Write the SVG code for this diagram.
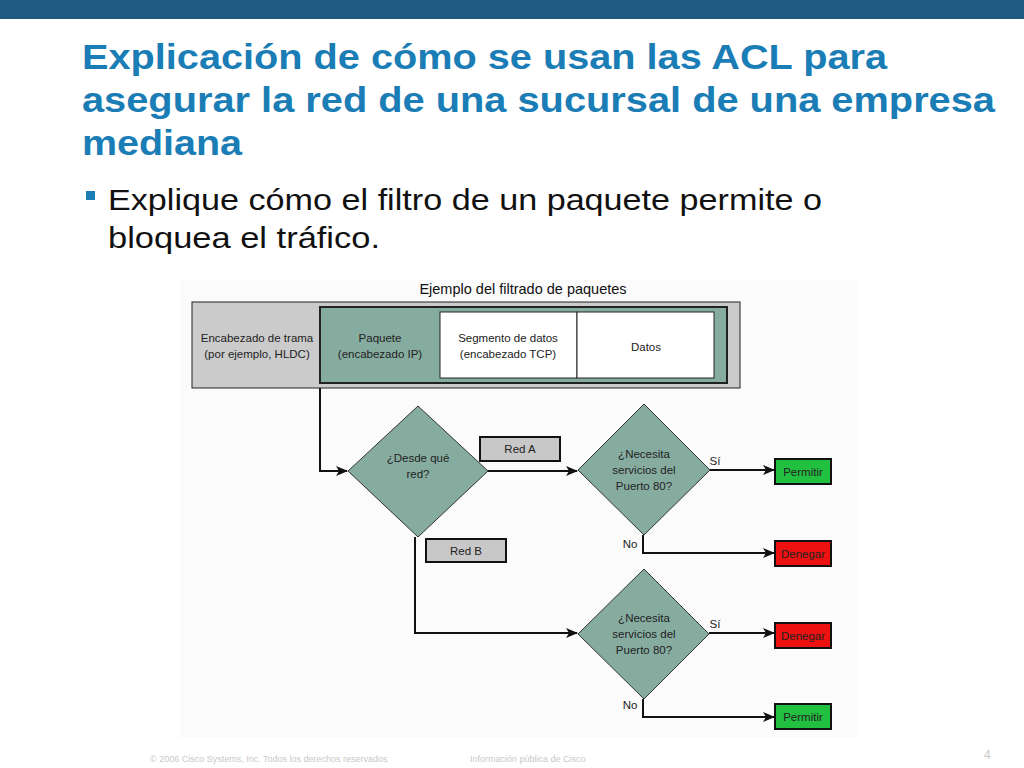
<svg xmlns="http://www.w3.org/2000/svg" width="1024" height="768" viewBox="0 0 1024 768">
<defs>
<marker id="ah" markerWidth="12" markerHeight="10" refX="11" refY="5" orient="auto" markerUnits="userSpaceOnUse"><path d="M0,0 L12,5 L0,10 L3,5 Z" fill="#111"/></marker>
<style>
text{font-family:"Liberation Sans",Arial,sans-serif}
.t{fill:#1b7db5;font-size:35px;font-weight:bold}
.b{fill:#111;font-size:30px}
.s{font-size:11.5px;fill:#222;text-anchor:middle}
.dia{fill:#86aca0;stroke:#333;stroke-width:1}
.c{fill:none;stroke:#111;stroke-width:2}
.lbl{fill:#c8c8c8;stroke:#111;stroke-width:2}
.ok{fill:#22c040;stroke:#111;stroke-width:2}
.no{fill:#ee1111;stroke:#111;stroke-width:2}
.f{fill:#c8c8c8;font-size:9px}
</style>
</defs>
<rect width="1024" height="768" fill="#fff"/>
<rect width="1024" height="19" fill="#1d5c80"/>
<text class="t" x="82" y="69" textLength="805" lengthAdjust="spacingAndGlyphs">Explicación de cómo se usan las ACL para</text>
<text class="t" x="82" y="112" textLength="913" lengthAdjust="spacingAndGlyphs">asegurar la red de una sucursal de una empresa</text>
<text class="t" x="82" y="155" textLength="160" lengthAdjust="spacingAndGlyphs">mediana</text>
<rect x="86" y="191" width="9" height="9" fill="#1b7db5"/>
<text class="b" x="108" y="210" textLength="714" lengthAdjust="spacingAndGlyphs">Explique cómo el filtro de un paquete permite o</text>
<text class="b" x="108" y="248" textLength="272" lengthAdjust="spacingAndGlyphs">bloquea el tráfico.</text>
<rect x="180" y="280" width="678" height="458" fill="#fbfbfb"/>
<text x="523" y="294" style="font-size:14.5px;fill:#111;text-anchor:middle">Ejemplo del filtrado de paquetes</text>
<g id="frame">
<rect x="192" y="302" width="548" height="86" fill="#cbcbcb" stroke="#222" stroke-width="1"/>
<text class="s" x="257" y="342">Encabezado de trama</text><text class="s" x="257" y="358">(por ejemplo, HLDC)</text>
<rect x="320" y="307" width="407" height="76" fill="#86aca0" stroke="#222" stroke-width="2"/>
<text class="s" x="380" y="342">Paquete</text><text class="s" x="380" y="358">(encabezado IP)</text>
<rect x="440" y="312" width="137" height="66" fill="#fff" stroke="#222" stroke-width="1"/>
<text class="s" x="508" y="342">Segmento de datos</text><text class="s" x="508" y="358">(encabezado TCP)</text>
<rect x="577" y="312" width="137" height="66" fill="#fff" stroke="#222" stroke-width="1"/>
<text class="s" x="646" y="351">Datos</text>
</g>
<g id="connectors">
<path class="c" d="M320,388 V471 H347" marker-end="url(#ah)"/>
<path class="c" d="M488,471 H577" marker-end="url(#ah)"/>
<path class="c" d="M415,537 V633 H577" marker-end="url(#ah)"/>
<path class="c" d="M710,470 H774" marker-end="url(#ah)"/>
<path class="c" d="M643,535 V553 H774" marker-end="url(#ah)"/>
<path class="c" d="M709,633 H774" marker-end="url(#ah)"/>
<path class="c" d="M643,699 V717 H774" marker-end="url(#ah)"/>
<text class="s" x="715" y="465">Sí</text>
<text class="s" x="630" y="548">No</text>
<text class="s" x="715" y="628">Sí</text>
<text class="s" x="630" y="709">No</text>
</g>
<g id="redA"><rect class="lbl" x="480" y="437" width="80" height="24"/><text class="s" x="520" y="453">Red A</text></g>
<g id="redB"><rect class="lbl" x="426" y="539" width="80" height="23"/><text class="s" x="466" y="555">Red B</text></g>
<g id="d1"><polygon class="dia" points="418,406 488,471 418,537 348,471"/><text class="s" x="418" y="462">¿Desde qué</text><text class="s" x="418" y="478">red?</text></g>
<g id="d2"><polygon class="dia" points="644,404 710,470 644,535 578,470"/><text class="s" x="644" y="458">¿Necesita</text><text class="s" x="644" y="474">servicios del</text><text class="s" x="644" y="490">Puerto 80?</text></g>
<g id="d3"><polygon class="dia" points="644,569 709,634 644,699 578,634"/><text class="s" x="644" y="622">¿Necesita</text><text class="s" x="644" y="638">servicios del</text><text class="s" x="644" y="654">Puerto 80?</text></g>
<g id="p1"><rect class="ok" x="775" y="459" width="56" height="25"/><text class="s" x="803" y="476">Permitir</text></g>
<g id="n1"><rect class="no" x="775" y="541" width="56" height="25"/><text class="s" x="803" y="558">Denegar</text></g>
<g id="n2"><rect class="no" x="775" y="623" width="56" height="25"/><text class="s" x="803" y="640">Denegar</text></g>
<g id="p2"><rect class="ok" x="775" y="704" width="56" height="25"/><text class="s" x="803" y="721">Permitir</text></g>
<text class="f" x="150" y="762">© 2006 Cisco Systems, Inc. Todos los derechos reservados</text>
<text class="f" x="470" y="762">Información pública de Cisco</text>
<text x="984" y="759" style="fill:#c8c8c8;font-size:12px">4</text>
</svg>
